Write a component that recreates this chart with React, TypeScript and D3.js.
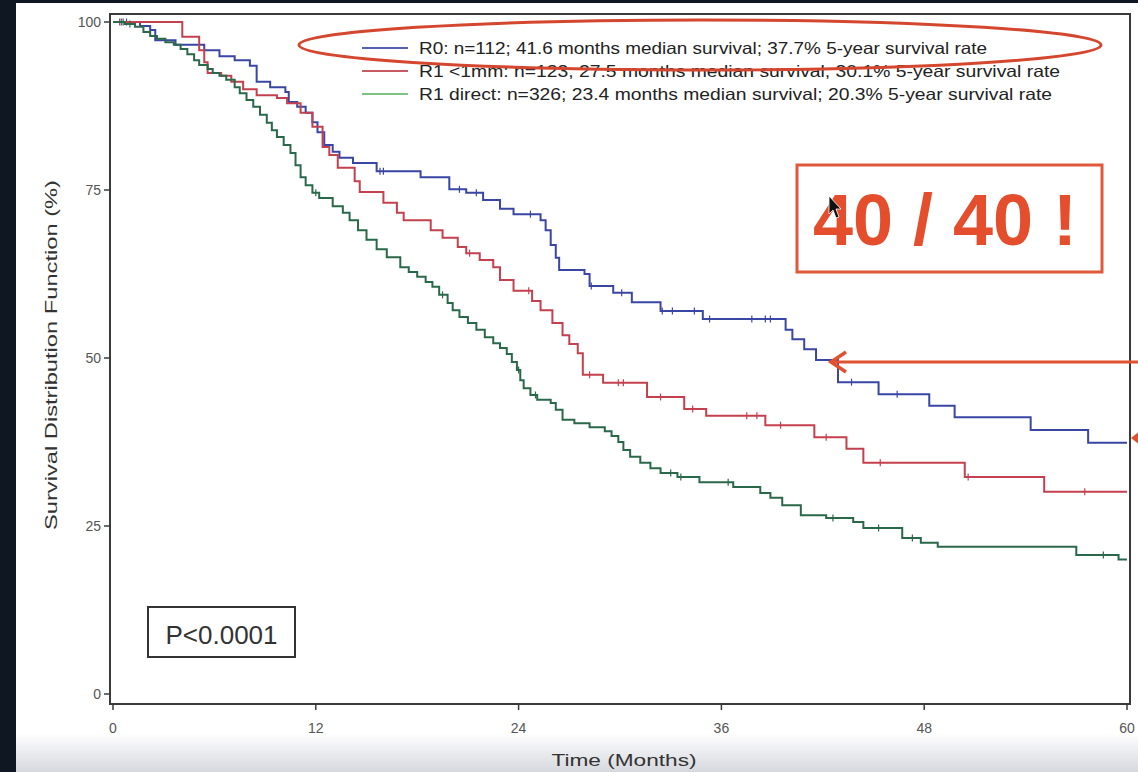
import React from "react";
import * as d3 from "d3";

// ---- Data (months, survival %) ----
const r0Steps: [number, number][] = [
  [0, 100], [1.6, 99.4], [2.2, 98.8], [2.5, 97.3], [3.7, 96.6], [5.4, 95.8], [6.3, 94.9],
  [7.2, 94.3], [8.1, 93.5], [8.5, 91.1], [9.3, 90.3], [10.2, 89.6], [10.4, 88.1], [10.9, 87.4],
  [11.4, 86.5], [11.8, 85.1], [12.1, 83.6], [12.5, 81.7], [13.0, 80.7], [13.4, 79.8], [14.2, 79.0],
  [15.6, 77.8], [18.2, 76.9], [19.9, 75.1], [20.9, 74.6], [21.9, 73.5], [22.9, 72.2], [23.7, 71.4],
  [25.3, 70.5], [25.6, 69.0], [25.9, 66.8], [26.2, 64.9], [26.4, 63.1], [27.9, 62.5], [28.2, 60.7],
  [29.6, 59.7], [30.7, 58.3], [32.4, 57.0], [34.9, 55.8], [39.8, 54.2], [40.2, 52.8], [40.9, 51.3],
  [41.6, 49.7], [42.9, 46.4], [45.3, 44.6], [48.3, 42.9], [49.8, 41.2], [54.3, 39.3], [57.7, 37.4],
];
const r1mmSteps: [number, number][] = [
  [0, 100], [4.1, 97.8], [5.1, 95.8], [5.4, 94.0], [5.6, 92.4], [6.4, 92.0], [7.0, 91.1],
  [7.7, 90.0], [8.5, 89.1], [9.7, 88.7], [10.3, 87.9], [11.1, 86.5], [11.8, 84.4], [12.4, 81.4],
  [12.8, 80.2], [13.3, 78.3], [14.3, 76.3], [14.6, 74.7], [16.0, 73.1], [16.8, 71.6], [17.2, 70.5],
  [18.8, 69.0], [19.5, 67.9], [20.4, 66.5], [20.9, 65.6], [21.7, 64.6], [22.5, 63.5], [22.9, 61.6],
  [23.7, 60.0], [24.8, 58.5], [25.3, 57.1], [26.0, 55.2], [26.6, 53.4], [27.0, 52.1], [27.5, 50.7],
  [27.8, 47.5], [29.0, 46.3], [31.6, 44.2], [33.8, 42.4], [35.1, 41.4], [38.6, 40.0], [41.5, 38.2],
  [43.4, 36.5], [44.4, 34.4], [50.4, 32.3], [55.1, 30.1],
];
const r1dSteps: [number, number][] = [
  [0, 100], [0.7, 99.7], [1.3, 99.3], [1.8, 98.5], [2.2, 97.9], [2.6, 97.5], [3.1, 97.0],
  [3.6, 96.6], [4.0, 96.0], [4.4, 95.2], [4.8, 94.3], [5.1, 93.6], [5.6, 93.0], [5.9, 92.4],
  [6.3, 92.0], [6.7, 91.4], [7.2, 90.3], [7.5, 89.4], [7.9, 88.4], [8.3, 87.4], [8.7, 86.2],
  [9.1, 85.0], [9.4, 83.9], [9.7, 82.9], [10.1, 81.7], [10.5, 80.5], [10.8, 78.7], [11.1, 76.9],
  [11.4, 75.7], [11.8, 74.6], [12.2, 73.8], [13.0, 72.6], [13.6, 71.6], [14.0, 70.5], [14.5, 69.0],
  [15.0, 67.6], [15.6, 66.2], [16.2, 65.0], [17.0, 63.5], [17.5, 62.8], [18.0, 62.1], [18.5, 61.3],
  [18.9, 60.6], [19.3, 59.4], [19.8, 58.2], [20.1, 57.1], [20.5, 56.1], [21.0, 55.2], [21.5, 54.2],
  [22.0, 53.1], [22.5, 52.2], [22.9, 51.5], [23.3, 50.6], [23.6, 49.4], [23.9, 48.2], [24.1, 46.7],
  [24.3, 45.5], [24.7, 44.5], [25.1, 43.8], [25.9, 43.3], [26.2, 42.3], [26.6, 40.8], [27.3, 40.3],
  [28.2, 39.7], [29.1, 39.1], [29.5, 38.4], [29.9, 37.5], [30.2, 36.3], [30.6, 35.3], [31.2, 34.4],
  [31.8, 33.6], [32.4, 32.9], [33.4, 32.3], [34.7, 31.5], [36.7, 30.8], [38.3, 29.9], [38.9, 29.2],
  [39.6, 28.1], [40.7, 26.6], [42.2, 26.2], [43.8, 25.6], [44.4, 24.7], [46.7, 23.2], [47.8, 22.5],
  [48.8, 21.9], [57.0, 20.7], [59.5, 20.0],
];
const r0Censor = [0.4, 0.8, 15.8, 16.0, 20.5, 21.5, 24.7, 28.3, 30.1, 32.5, 33.1, 34.4, 35.3, 37.8, 38.6, 38.9, 43.7, 46.4];
const r1mmCensor = [0.5, 21.1, 24.6, 28.2, 29.9, 30.2, 32.4, 34.3, 37.5, 38.1, 39.5, 42.2, 45.4, 50.6, 57.5];
const r1dCensor = [0.6, 1.0, 12.0, 19.5, 24.0, 25.0, 33.0, 33.6, 36.4, 42.6, 45.3, 47.3, 58.6];

const legendLabels = [
  "R0: n=112; 41.6 months median survival; 37.7% 5-year survival rate",
  "R1 <1mm: n=123; 27.5 months median survival; 30.1% 5-year survival rate",
  "R1 direct: n=326; 23.4 months median survival; 20.3% 5-year survival rate",
];
const xTicks = [0, 12, 24, 36, 48, 60];
const yTicks = [0, 25, 50, 75, 100];

const W = 1138, H = 772;
const FONT = "Liberation Sans, Arial, sans-serif";

export default function App() {
  const x = d3.scaleLinear().domain([0, 60]).range([113, 1127]);
  const y = d3.scaleLinear().domain([0, 100]).range([694, 22]);
  const line = d3.line<[number, number]>().x(d => x(d[0])).y(d => y(d[1])).curve(d3.curveStepAfter);

  const series = [
    { steps: r0Steps, censor: r0Censor, color: "#3a46a4", legend: "#5560b0", width: 568 },
    { steps: r1mmSteps, censor: r1mmCensor, color: "#c4404e", legend: "#c85a66", width: 641 },
    { steps: r1dSteps, censor: r1dCensor, color: "#2a684a", legend: "#7cc282", width: 633 },
  ];
  const survAt = (steps: [number, number][], t: number) => {
    let s = 100;
    for (const [tt, v] of steps) if (tt <= t) s = v;
    return s;
  };

  return (
    <div style={{ position: "absolute", left: 0, top: 0 }}>
      <svg width={W} height={H} style={{ display: "block" }}>
        <defs>
          <linearGradient id="bot" x1="0" y1="0" x2="0" y2="1">
            <stop offset="0" stopColor="#ffffff" />
            <stop offset="1" stopColor="#d6d8de" />
          </linearGradient>
        </defs>
        <rect x={0} y={0} width={W} height={H} fill="#0e1722" />
        <rect x={16} y={3} width={W - 16} height={H - 3} fill="#ffffff" />
        <rect x={16} y={733} width={W - 16} height={H - 733} fill="url(#bot)" />

        {/* frame */}
        <rect x={110} y={14} width={1020} height={690} fill="none" stroke="#3a3a3a" strokeWidth={2} />

        {/* y ticks */}
        {yTicks.map(t => (
          <g key={"y" + t}>
            <line x1={104} x2={110} y1={y(t)} y2={y(t)} stroke="#3a3a3a" strokeWidth={1.5} />
            <text x={101} y={y(t) + 4.5} textAnchor="end" fontFamily={FONT} fontSize={14} fill="#555">{t}</text>
          </g>
        ))}
        {/* x ticks */}
        {xTicks.map(t => (
          <g key={"x" + t}>
            <line x1={x(t)} x2={x(t)} y1={704} y2={710} stroke="#3a3a3a" strokeWidth={1.5} />
            <text x={x(t)} y={733} textAnchor="middle" fontFamily={FONT} fontSize={14} fill="#555">{t}</text>
          </g>
        ))}
        <text x={624} y={766} textAnchor="middle" fontFamily={FONT} fontSize={17} fill="#333"
          textLength={145} lengthAdjust="spacingAndGlyphs">Time (Months)</text>
        <text transform="translate(57,355) rotate(-90)" textAnchor="middle" fontFamily={FONT} fontSize={17} fill="#333"
          textLength={350} lengthAdjust="spacingAndGlyphs">Survival Distribution Function (%)</text>

        {/* curves */}
        {series.map((s, i) => {
          const pts = [...s.steps, [60, s.steps[s.steps.length - 1][1]] as [number, number]];
          return (
            <g key={"s" + i}>
              <path d={line(pts) || ""} fill="none" stroke={s.color} strokeWidth={2} />
              {s.censor.map((c, j) => (
                <line key={j} x1={x(c)} x2={x(c)} y1={y(survAt(s.steps, c)) - 3.5} y2={y(survAt(s.steps, c)) + 3.5}
                  stroke={s.color} strokeWidth={1.2} />
              ))}
            </g>
          );
        })}

        {/* legend */}
        {series.map((s, i) => (
          <g key={"l" + i}>
            <line x1={362} x2={408} y1={48 + i * 23} y2={48 + i * 23} stroke={s.legend} strokeWidth={1.8} />
            <text x={419} y={54 + i * 23} fontFamily={FONT} fontSize={16.5} fill="#222"
              textLength={s.width} lengthAdjust="spacingAndGlyphs">{legendLabels[i]}</text>
          </g>
        ))}

        {/* annotation ellipse */}
        <ellipse cx={700} cy={45} rx={401} ry={25} fill="none" stroke="#d4472e" strokeWidth={3} />

        {/* 40 / 40 box */}
        <rect x={797} y={165} width={305} height={107} fill="none" stroke="#e0583a" strokeWidth={3} />
        <text x={945} y={245} textAnchor="middle" fontFamily={FONT} fontWeight="bold" fontSize={72} fill="#e54e2c">40 / 40 !</text>
        {/* mouse cursor */}
        <path d="M829,196 L829,214 L833,210 L836,218 L839,217 L836,209 L841,209 Z" fill="#111" stroke="#fff" strokeWidth={0.8} />

        {/* arrow at median */}
        <line x1={834} x2={1138} y1={362} y2={362} stroke="#e0522f" strokeWidth={3} />
        <path d="M846,352 L831,362 L846,372" fill="none" stroke="#e0522f" strokeWidth={3.5} strokeLinejoin="miter" />
        {/* arrow tip at right edge */}
        <path d="M1131,438 L1140,431 L1140,445 Z" fill="#e0522f" />

        {/* P-value box */}
        <rect x={148} y={607} width={147} height={50} fill="#fff" stroke="#333" strokeWidth={2} />
        <text x={221.5} y={644} textAnchor="middle" fontFamily={FONT} fontSize={26} fill="#333">P&lt;0.0001</text>
      </svg>
    </div>
  );
}
